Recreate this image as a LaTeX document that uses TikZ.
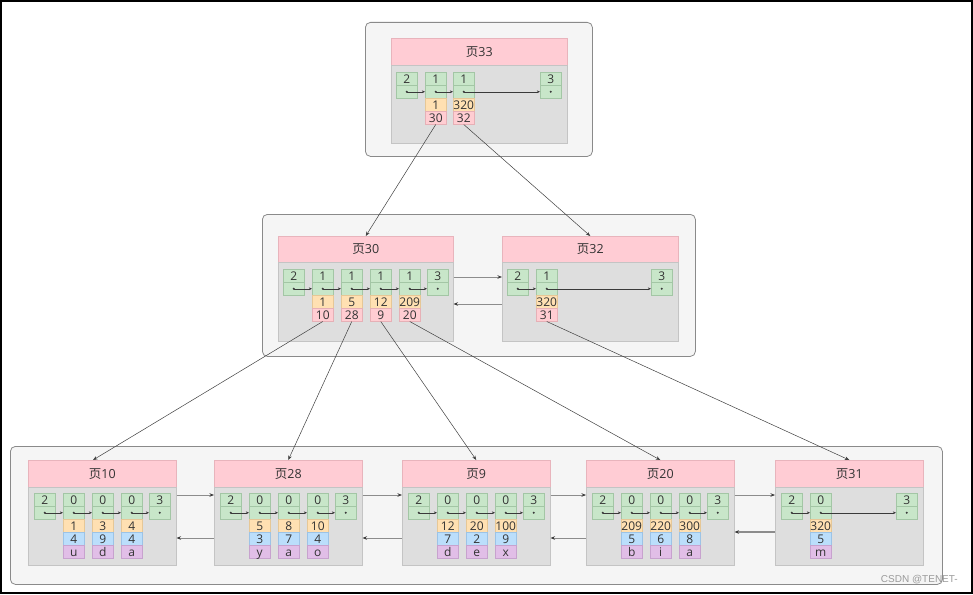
\documentclass[tikz,border=0pt]{standalone}
\usepackage{fontspec}
\setmainfont{Open Sans}
\newfontfamily\cjk{Noto Sans CJK SC}
\newfontfamily\wmfont{Liberation Sans}
\usetikzlibrary{arrows.meta,calc}
\definecolor{contfill}{HTML}{F5F5F5}
\definecolor{contdraw}{HTML}{8A8A8A}
\definecolor{headfill}{HTML}{FFCCD4}
\definecolor{headdraw}{HTML}{E8B4BC}
\definecolor{bodyfill}{HTML}{DEDEDE}
\definecolor{bodydraw}{HTML}{C4C4C4}
\definecolor{gfill}{HTML}{C8E6C9}
\definecolor{gdraw}{HTML}{A3C6A5}
\definecolor{ofill}{HTML}{FFE0B2}
\definecolor{odraw}{HTML}{E6C796}
\definecolor{pfill}{HTML}{FFCDD2}
\definecolor{pdraw}{HTML}{E6B0B6}
\definecolor{bfill}{HTML}{BBDEFB}
\definecolor{bdraw}{HTML}{9CC3E6}
\definecolor{vfill}{HTML}{E1BEE7}
\definecolor{vdraw}{HTML}{C7A2CE}
\definecolor{txt}{HTML}{333333}
\definecolor{linkc}{HTML}{3A3A3A}
\definecolor{connc}{HTML}{404040}
\definecolor{hlinkc}{HTML}{8C8C8C}
\definecolor{wmc}{HTML}{9A9A9A}
\tikzset{
  cont/.style={draw=contdraw, fill=contfill, rounded corners=5pt, line width=0.8pt, anchor=north west, inner sep=0},
  pghead/.style={draw=headdraw, fill=headfill, anchor=north west, inner sep=0, minimum height=27pt, font=\fontsize{12.5}{14}\selectfont, text=txt, line width=0.5pt},
  pgbody/.style={draw=bodydraw, fill=bodyfill, anchor=north west, inner sep=0, minimum height=78pt, line width=0.5pt},
  cellbase/.style={anchor=north west, inner sep=0, minimum width=21pt, minimum height=13pt, text height=9pt, text depth=0.5pt, font=\fontsize{12}{13}\selectfont, text=txt, line width=0.5pt},
  gcell/.style={cellbase, draw=gdraw, fill=gfill},
  ocell/.style={cellbase, draw=odraw, fill=ofill},
  pcell/.style={cellbase, draw=pdraw, fill=pfill},
  bcell/.style={cellbase, draw=bdraw, fill=bfill},
  vcell/.style={cellbase, draw=vdraw, fill=vfill},
  dotmark/.style={circle, fill=linkc, inner sep=0, minimum size=2.3pt},
  link/.style={draw=linkc, line width=0.5pt, -{Stealth[length=3.2pt,width=2.8pt]}},
  conn/.style={draw=connc, line width=0.5pt, -{Stealth[length=4.5pt,width=3.5pt]}},
  hlink/.style={draw=hlinkc, line width=0.7pt, -{Stealth[length=4.5pt,width=3.5pt,color=linkc]}},
}
\newcommand\gc[4]{%
  \node[gcell] (#1n) at (#2,#3) {#4};
  \node[gcell] (#1d) at (#2,#3+13) {};
  \node[dotmark] (#1m) at (#1d.center) {};
}
\newcommand\leafpage[3]{%
  \node[pghead, minimum width=148pt] (#1head) at (#2,460) {{\cjk 页}#3};
  \node[pgbody, minimum width=148pt] (#1body) at (#2,487) {};
  \gc{#1c1}{#2+6}{493}{2}
  \gc{#1c5}{#2+121}{493}{3}
}
\newcommand\rec[5]{%
  \gc{#1}{#2}{493}{0}
  \node[ocell] (#1o) at (#2,519) {#3};
  \node[bcell] (#1b) at (#2,532) {#4};
  \node[vcell] (#1v) at (#2,545) {#5};
}
\begin{document}
\begin{tikzpicture}[x=1pt,y=-1pt]
\useasboundingbox (0,0) rectangle (973,594);
\fill[white] (0,0) rectangle (973,594);

% containers
\node[cont, minimum width=227pt, minimum height=134pt] (cont1) at (365,22) {};
\node[cont, minimum width=433pt, minimum height=142pt] (cont2) at (262,214) {};
\node[cont, minimum width=932pt, minimum height=138pt] (cont3) at (10,446) {};

% ---------- page 33 ----------
\node[pghead, minimum width=176pt] (p33head) at (391,38) {{\cjk 页}33};
\node[pgbody, minimum width=176pt] (p33body) at (391,65) {};
\gc{p33c1}{396}{72}{2}
\gc{p33c2}{425}{72}{1}
\gc{p33c3}{453}{72}{1}
\gc{p33c4}{540}{72}{3}
\node[ocell] (p33c2o) at (425,98) {1};
\node[pcell] (p33c2p) at (425,111) {30};
\node[ocell] (p33c3o) at (453,98) {320};
\node[pcell] (p33c3p) at (453,111) {32};
\draw[link] (p33c1m.center) -- (p33c2d.west);
\draw[link] (p33c2m.center) -- (p33c3d.west);
\draw[link] (p33c3m.center) -- (p33c4d.west);

% ---------- page 30 ----------
\node[pghead, minimum width=175pt, minimum height=26pt] (p30head) at (278,236) {{\cjk 页}30};
\node[pgbody, minimum width=175pt, minimum height=79pt] (p30body) at (278,262) {};
\gc{p30c1}{283}{269}{2}
\gc{p30c2}{312}{269}{1}
\gc{p30c3}{341}{269}{1}
\gc{p30c4}{370}{269}{1}
\gc{p30c5}{399}{269}{1}
\gc{p30c6}{427}{269}{3}
\node[ocell] (p30c2o) at (312,295) {1};
\node[pcell] (p30c2p) at (312,308) {10};
\node[ocell] (p30c3o) at (341,295) {5};
\node[pcell] (p30c3p) at (341,308) {28};
\node[ocell] (p30c4o) at (370,295) {12};
\node[pcell] (p30c4p) at (370,308) {9};
\node[ocell] (p30c5o) at (399,295) {209};
\node[pcell] (p30c5p) at (399,308) {20};
\draw[link] (p30c1m.center) -- (p30c2d.west);
\draw[link] (p30c2m.center) -- (p30c3d.west);
\draw[link] (p30c3m.center) -- (p30c4d.west);
\draw[link] (p30c4m.center) -- (p30c5d.west);
\draw[link] (p30c5m.center) -- (p30c6d.west);

% ---------- page 32 ----------
\node[pghead, minimum width=176pt, minimum height=26pt] (p32head) at (502,236) {{\cjk 页}32};
\node[pgbody, minimum width=176pt, minimum height=79pt] (p32body) at (502,262) {};
\gc{p32c1}{507}{269}{2}
\gc{p32c2}{536}{269}{1}
\gc{p32c3}{651}{269}{3}
\node[ocell] (p32c2o) at (536,295) {320};
\node[pcell] (p32c2p) at (536,308) {31};
\draw[link] (p32c1m.center) -- (p32c2d.west);
\draw[link] (p32c2m.center) -- (p32c3d.west);

\draw[hlink] ($(p30body.north east)+(0,15)$) -- ($(p32body.north west)+(0,15)$);
\draw[hlink] ($(p32body.north west)+(0,42)$) -- ($(p30body.north east)+(0,42)$);

% ---------- leaf pages ----------
\leafpage{p10}{28}{10}
\rec{p10r1}{63}{1}{4}{u}
\rec{p10r2}{92}{3}{9}{d}
\rec{p10r3}{121}{4}{4}{a}

\leafpage{p28}{214}{28}
\rec{p28r1}{249}{5}{3}{y}
\rec{p28r2}{278}{8}{7}{a}
\rec{p28r3}{307}{10}{4}{o}

\leafpage{p9}{402}{9}
\rec{p9r1}{437}{12}{7}{d}
\rec{p9r2}{466}{20}{2}{e}
\rec{p9r3}{495}{100}{9}{x}

\leafpage{p20}{586}{20}
\rec{p20r1}{621}{209}{5}{b}
\rec{p20r2}{650}{220}{6}{i}
\rec{p20r3}{679}{300}{8}{a}

\leafpage{p31}{775}{31}
\rec{p31r1}{810}{320}{5}{m}

\foreach \p in {p10,p28,p9,p20}{
  \draw[link] (\p c1m.center) -- (\p r1d.west);
  \draw[link] (\p r1m.center) -- (\p r2d.west);
  \draw[link] (\p r2m.center) -- (\p r3d.west);
  \draw[link] (\p r3m.center) -- (\p c5d.west);
}
\draw[link] (p31c1m.center) -- (p31r1d.west);
\draw[link] (p31r1m.center) -- (p31c5d.west);

% sibling links
\draw[hlink] ($(p10body.north east)+(0,8)$) -- ($(p28body.north west)+(0,8)$);
\draw[hlink] ($(p28body.north west)+(0,51)$) -- ($(p10body.north east)+(0,51)$);
\draw[hlink] ($(p28body.north east)+(0,8)$) -- ($(p9body.north west)+(0,8)$);
\draw[hlink] ($(p9body.north west)+(0,51)$) -- ($(p28body.north east)+(0,51)$);
\draw[hlink] ($(p9body.north east)+(0,8)$) -- ($(p20body.north west)+(0,8)$);
\draw[hlink] ($(p20body.north west)+(0,51)$) -- ($(p9body.north east)+(0,51)$);
\draw[hlink] ($(p20body.north east)+(0,8)$) -- ($(p31body.north west)+(0,8)$);
\draw[hlink, line width=1.1pt] ($(p31body.north west)+(0,45)$) -- ($(p20body.north east)+(0,45)$);

% tree connectors
\coordinate (t10) at (93,460);
\draw[conn] (p33c2p.south) -- (p30head.north);
\draw[conn] (p33c3p.south) -- (p32head.north);
\draw[conn] (p30c2p.south) -- (t10);
\draw[conn] (p30c3p.south) -- (p28head.north);
\draw[conn] (p30c4p.south) -- (p9head.north);
\draw[conn] (p30c5p.south) -- (p20head.north);
\draw[conn] (p32c2p.south) -- (p31head.north);

% watermark
\node[text=wmc, font=\wmfont\fontsize{10}{11}\selectfont, anchor=base east, inner sep=0] (wm) at (958,582) {CSDN @TENET-};

% outer frame
\draw[line width=2pt] (1,1) rectangle (972,593);
\end{tikzpicture}
\end{document}
